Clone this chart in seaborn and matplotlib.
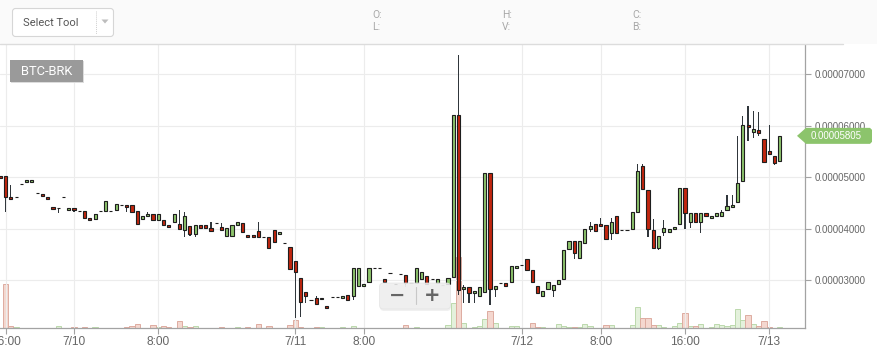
import numpy as np
import pandas as pd
import matplotlib
matplotlib.use("Agg")
import matplotlib.pyplot as plt
import seaborn as sns
from matplotlib.patches import FancyBboxPatch, Polygon, Rectangle
from matplotlib.lines import Line2D

# ---------------- data (prices in satoshi, one candle per slot) ----------------
opens = [5024, 5024, 4609, 4609, 4868, 4901, 4901, 4687, 4674, 4609,
         4415, 4395, 4609, 4356, 4395, 4337, 4337, 4201, 4181, 4337,
         4337, 4337, 4356, 4454, 4454, 4454, 4333, 4181, 4240, 4284,
         4162, 4162, 4064, 4123, 4084, 3967, 4045, 3889, 4064, 4064,
         4006, 4103, 4026, 3862, 3862, 4064, 4103, 3870, 3870, 3948,
         3831, 3831, 3967, 3889, 3714, 3636, 3364, 3033, 2761, 2611,
         2644, 2624, 2500, 2663, 2663, 2656, 2708, 2694, 2877, 2889,
         2955, 3228, 3228, 3014, 3130, 2916, 3111, 3091, 2936, 2936,
         3014, 3072, 3019, 2947, 2897, 2916, 3058, 6205, 2819, 2858,
         2741, 2694, 2772, 5076, 2819, 2936, 2936, 2967, 3228, 3292,
         3403, 3189, 2877, 2679, 2819, 2796, 2916, 3010, 3597, 3753,
         3422, 3714, 3987, 4084, 4084, 4064, 3909, 4240, 3967, 3967,
         3987, 4317, 5218, 4746, 3967, 3617, 3928, 3928, 3987, 4084,
         4784, 4135, 4298, 4135, 4298, 4201, 4245, 4245, 4362, 4415,
         4524, 4933, 6016, 5886, 5919, 5738, 5510, 5413, 5322]
highs = [5024, 5024, 4855, 4609, 4868, 4940, 4940, 4687, 4674, 4609,
         4415, 4395, 4609, 4395, 4395, 4337, 4337, 4201, 4279, 4337,
         4532, 4337, 4479, 4454, 4454, 4454, 4333, 4245, 4323, 4284,
         4284, 4162, 4064, 4284, 4356, 4323, 4045, 4064, 4064, 4064,
         4129, 4103, 4115, 4006, 4064, 4123, 4103, 3870, 3870, 4129,
         3831, 3831, 3967, 3934, 3714, 3636, 3364, 3033, 2761, 2611,
         2694, 2656, 2500, 2663, 2663, 2694, 2708, 3239, 3239, 2928,
         3239, 3228, 3228, 3014, 3130, 2916, 3111, 3091, 2936, 3228,
         3150, 3072, 3019, 3014, 2897, 3033, 6205, 7378, 2903, 2858,
         2780, 2858, 5076, 5076, 2877, 2936, 2936, 3267, 3267, 3292,
         3403, 3189, 2877, 2780, 2955, 2897, 2994, 3580, 3753, 3753,
         3753, 3987, 4123, 4084, 4201, 4064, 4201, 4240, 3967, 3967,
         4317, 5252, 5252, 4746, 4181, 3850, 4162, 3987, 4031, 4784,
         4784, 4298, 4298, 4298, 4298, 4245, 4298, 4362, 4648, 4648,
         5802, 6191, 6386, 6295, 6269, 5738, 6016, 5413, 5805]
lows = [4985, 4323, 4570, 4609, 4868, 4901, 4901, 4687, 4615, 4570,
        4376, 4310, 4609, 4356, 4323, 4337, 4201, 4162, 4162, 4337,
        4337, 4337, 4356, 4454, 4329, 4329, 4084, 4162, 4240, 4162,
        4162, 4064, 4026, 4123, 3998, 3831, 3856, 3831, 4018, 3998,
        3959, 4103, 3979, 3862, 3862, 4064, 3928, 3831, 3831, 3831,
        3831, 3617, 3730, 3889, 3714, 3218, 2261, 2274, 2547, 2611,
        2527, 2624, 2461, 2663, 2663, 2656, 2617, 2617, 2877, 2889,
        2955, 3228, 3228, 2955, 3130, 2916, 3111, 2870, 2936, 2936,
        3014, 2916, 3019, 2922, 2897, 2916, 3058, 2708, 2547, 2558,
        2558, 2694, 2772, 2504, 2675, 2936, 2889, 2967, 3228, 3292,
        3189, 2955, 2741, 2679, 2819, 2669, 2916, 3010, 3597, 3409,
        3422, 3714, 3928, 3948, 4045, 3792, 3773, 3909, 3967, 3967,
        3987, 4317, 4765, 3846, 3617, 3578, 3850, 3928, 3987, 4084,
        3987, 4018, 4135, 3920, 4245, 4201, 4245, 4245, 4362, 4415,
        4524, 4933, 5711, 5757, 5808, 5271, 5452, 5244, 5322]
closes = [4985, 4609, 4570, 4609, 4868, 4940, 4940, 4687, 4629, 4570,
          4376, 4395, 4609, 4395, 4356, 4337, 4201, 4162, 4279, 4337,
          4532, 4337, 4479, 4454, 4415, 4329, 4084, 4245, 4284, 4162,
          4284, 4064, 4026, 4284, 3998, 4240, 3889, 4064, 4018, 4018,
          3959, 4103, 3979, 4006, 4064, 4123, 3928, 3831, 3831, 3831,
          3831, 3617, 3730, 3934, 3714, 3218, 3165, 2566, 2694, 2611,
          2527, 2656, 2461, 2663, 2663, 2694, 2617, 3239, 3239, 2928,
          3239, 3228, 3228, 2955, 3130, 2916, 3111, 2951, 2936, 3228,
          3150, 2916, 3019, 3014, 2897, 3033, 6205, 2805, 2858, 2753,
          2780, 2858, 5076, 2819, 2877, 2936, 2889, 3267, 3267, 3292,
          3189, 2955, 2741, 2780, 2955, 2897, 2994, 3580, 3753, 3520,
          3753, 3987, 4045, 3948, 4045, 3792, 4123, 3909, 3967, 3967,
          4317, 5115, 4765, 3987, 3617, 3850, 4006, 3987, 4031, 4784,
          4310, 4298, 4135, 4298, 4245, 4245, 4298, 4323, 4440, 4460,
          4882, 6016, 5972, 5933, 5866, 5302, 5452, 5283, 5805]
volumes = [0, 44, 2, 1, 0, 0, 0, 0, 0, 0,
           0, 2, 0, 0, 1.5, 0, 1.5, 0, 1.5, 0,
           0, 0, 0, 0, 1, 2, 4, 0, 0, 3,
           1, 2.3, 1, 0, 7, 2, 1, 2, 0, 0,
           0, 0, 1.5, 0, 0, 1.5, 0, 1.5, 0, 4,
           0, 2, 0, 0, 0, 3.5, 8, 1, 0, 0,
           1, 1, 0, 0, 0, 1, 0, 2, 0, 0,
           0, 0, 0, 0, 0, 0, 0, 3, 0, 1,
           0, 0, 0, 0, 0, 3, 25, 71, 5, 0,
           1, 2, 9, 17, 5, 0, 0, 2.5, 2.5, 0,
           0, 5, 1, 1, 0, 0, 4, 2.5, 1, 1,
           1, 4, 2.5, 0, 0, 3, 3, 0, 0, 0,
           3, 21, 10, 10, 3, 3, 1.5, 0, 2, 5,
           15, 2, 2, 4, 0, 1, 4, 3, 2, 3,
           19, 8, 13, 4, 2, 7, 1, 0, 1.5]

tick_slots = [1, 14, 30, 56, 69, 99, 114, 130, 146]
tick_labels = ["16:00", "7/10", "8:00", "7/11", "8:00", "7/12", "8:00", "16:00", "7/13"]
price_ticks_sat = [3000, 4000, 5000, 6000, 7000]
pair_name = "BTC-BRK"
last_price_sat = 5805

# ---------------- frame ----------------
SAT = 1e-8
df = pd.DataFrame({
    "slot": np.arange(len(opens)),
    "open": np.array(opens) * SAT,
    "high": np.array(highs) * SAT,
    "low": np.array(lows) * SAT,
    "close": np.array(closes) * SAT,
    "volume": volumes,
})
df["up"] = df["close"] >= df["open"]
df["body_lo"] = np.minimum(df["open"], df["close"])
df["body_h"] = (df["close"] - df["open"]).abs()
df["wick_h"] = df["high"] - df["low"]

# ---------------- style ----------------
sns.set_theme(style="white")
plt.rcParams["font.family"] = ["Liberation Sans", "DejaVu Sans"]

W, H = 878, 363
fig = plt.figure(figsize=(W / 100, H / 100), dpi=100)
fig.patch.set_facecolor("white")


def rect(x, y, w, h):
    return [x / W, 1 - (y + h) / H, w / W, h / H]


plot_rect = rect(0, 44, 805, 284)
axv = fig.add_axes(plot_rect, label="volume")
ax = fig.add_axes(plot_rect, label="price")
ax.patch.set_alpha(0)

XMIN, XMAX = -0.057, 152.8

# ---------------- volume ----------------
GREEN_V, GREEN_VE = "#e4f1dc", "#bcd9ad"
RED_V, RED_VE = "#f4d7cf", "#deaca0"
for up, fc, ec in [(True, GREEN_V, GREEN_VE), (False, RED_V, RED_VE)]:
    sub = df[df["up"] == up]
    sns.barplot(data=sub, x="slot", y="volume", native_scale=True, width=1.0,
                color=fc, edgecolor=ec, linewidth=0.7, saturation=1,
                errorbar=None, ax=axv)
axv.set_xlim(XMIN, XMAX)
axv.set_ylim(0, 284)
axv.set_axis_off()

# ---------------- candles ----------------
sns.barplot(data=df, x="slot", y="wick_h", bottom=df["low"].to_numpy(),
            native_scale=True, width=0.24, color="#30363b", linewidth=0,
            saturation=1, errorbar=None, ax=ax)
GREEN_C, RED_C = "#8dc46c", "#c1260f"
for up, fc in [(True, GREEN_C), (False, RED_C)]:
    sub = df[df["up"] == up]
    sns.barplot(data=sub, x="slot", y="body_h", bottom=sub["body_lo"].to_numpy(),
                native_scale=True, width=0.6, color=fc, edgecolor="#1e1e1e",
                linewidth=0.8, saturation=1, errorbar=None, ax=ax)

ax.set_xlim(XMIN, XMAX)
ax.set_ylim(2066 * SAT, 7592 * SAT)
ax.set_xlabel("")
ax.set_ylabel("")
ax.yaxis.tick_right()
ax.set_yticks([p * SAT for p in price_ticks_sat])
ax.set_yticklabels([f"{p * SAT:.8f}" for p in price_ticks_sat])
ax.set_xticks(tick_slots)
ax.set_xticklabels(tick_labels)
ax.grid(True, color="#ececec", linewidth=0.8)
ax.set_axisbelow(True)
for s in ["top", "left"]:
    ax.spines[s].set_visible(False)
for s in ["right", "bottom"]:
    ax.spines[s].set_color("#a3a3a3")
    ax.spines[s].set_linewidth(0.9)
ax.tick_params(axis="y", which="both", direction="out", length=4, width=0.8,
               color="#a3a3a3", labelsize=7, labelcolor="#666666", pad=3,
               right=True, left=False)
ax.tick_params(axis="x", direction="out", length=4, width=0.8, color="#a3a3a3",
               labelsize=8.6, labelcolor="#666666", pad=2, bottom=True)

# ---------------- chrome overlay ----------------
ov = fig.add_axes([0, 0, 1, 1], label="overlay")
ov.set_xlim(0, W)
ov.set_ylim(H, 0)
ov.set_axis_off()
ov.patch.set_alpha(0)

ov.add_patch(Rectangle((0, 0), W, 43.5, facecolor="#fafafa", edgecolor="none"))
ov.add_line(Line2D([0, 843], [43.5, 43.5], color="#dcdcdc", linewidth=1))
ov.add_patch(FancyBboxPatch((12.5, 8.5), 101, 28, boxstyle="round,pad=0,rounding_size=3",
                            facecolor="white", edgecolor="#d6d6d6", linewidth=0.8))
ov.text(23, 23, "Select Tool", fontsize=8, color="#555555", va="center", ha="left",
        family=["Roboto", "DejaVu Sans"])
ov.add_line(Line2D([96.5, 96.5], [11, 34], color="#cfcfcf", linewidth=0.7, linestyle=(0, (1, 1))))
ov.add_patch(Polygon([(101.5, 19.5), (108.5, 19.5), (105, 23.5)], closed=True,
                     facecolor="#bdbdbd", edgecolor="none"))
for x, y, t in [(372, 14.5, "O:"), (372, 27.5, "L:"), (502, 14.5, "H:"),
                (502, 27.5, "V:"), (632, 14.5, "C:"), (632, 27.5, "B:")]:
    ov.text(x, y, t, fontsize=7.5, color="#a8a8a8", va="center", ha="left",
            family=["Roboto", "DejaVu Sans"])

# pair label
ov.add_patch(Rectangle((11, 61), 73, 22, facecolor="#dcdcdc", edgecolor="none"))
ov.add_patch(Rectangle((10, 60), 73, 22, facecolor="#9a9a9a", edgecolor="none"))
ov.text(46.5, 71.5, pair_name, fontsize=9.3, color="white", va="center", ha="center",
        family=["Roboto", "DejaVu Sans"])

# last price tag
ty = 280 - (last_price_sat - 3000) / 19.46
ov.add_patch(Polygon([(797, ty), (806, ty - 8), (870, ty - 8), (872, ty - 6),
                      (872, ty + 6), (870, ty + 8), (806, ty + 8)], closed=True,
                     facecolor="#8cc46c", edgecolor="none"))
ov.text(811, ty + 0.5, f"{last_price_sat * SAT:.8f}", fontsize=7, color="white",
        va="center", ha="left")

# zoom control
ov.add_patch(FancyBboxPatch((380, 285), 71, 26, boxstyle="round,pad=0,rounding_size=4",
                            facecolor="#e2e2e2", edgecolor="none", alpha=0.5))
ov.add_patch(FancyBboxPatch((379.5, 283), 71, 26, boxstyle="round,pad=0,rounding_size=4",
                            facecolor="#efefef", edgecolor="#e4e4e4", linewidth=0.6, alpha=0.88))
ov.add_line(Line2D([416.5, 416.5], [287, 304], color="#c8c8c8", linewidth=0.8))
ov.text(397.5, 295.5, "\u2212", fontsize=14, fontweight="bold", color="#666666",
        va="center", ha="center", family=["DejaVu Sans"])
ov.text(432.5, 295.5, "+", fontsize=14, fontweight="bold", color="#666666",
        va="center", ha="center", family=["DejaVu Sans"])

fig.savefig("out.png", dpi=100, facecolor="white")
